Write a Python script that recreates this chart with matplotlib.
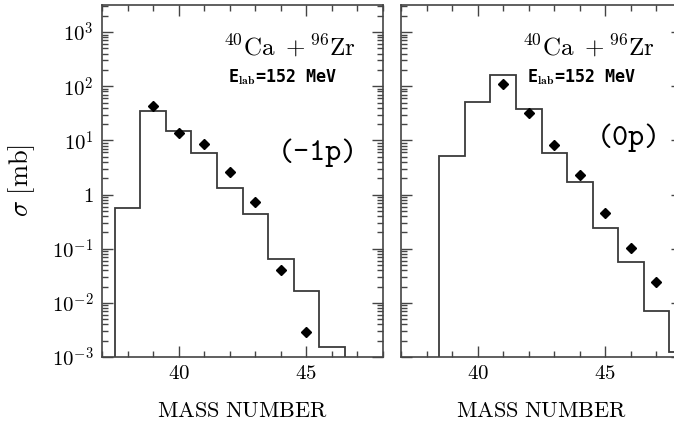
import os
import numpy as np
import matplotlib
matplotlib.use("Agg")
import matplotlib.pyplot as plt
from matplotlib.font_manager import FontProperties
from matplotlib.ticker import LogLocator, FixedLocator, MultipleLocator, NullFormatter

plt.rcParams['mathtext.fontset'] = 'cm'
plt.rcParams['font.family'] = ['DejaVu Serif']

# ---- data ----
# left panel (-1p)
calc_mass_m1 = [38, 39, 40, 41, 42, 43, 44, 45, 46]
calc_sigma_m1 = [0.56, 34.6, 15.2, 5.97, 1.32, 0.43, 0.0635, 0.0163, 0.00152]
exp_mass_m1 = [39, 40, 41, 42, 43, 44, 45]
exp_sigma_m1 = [42.9, 13.8, 8.75, 2.61, 0.72, 0.041, 0.0029]

# right panel (0p)
calc_mass_0 = [39, 40, 41, 42, 43, 44, 45, 46, 47, 48]
calc_sigma_0 = [5.16, 50.1, 158, 37.7, 5.97, 1.71, 0.245, 0.0575, 0.00693, 0.00126]
exp_mass_0 = [41, 42, 43, 44, 45, 46, 47]
exp_sigma_0 = [108, 31.4, 8.26, 2.34, 0.46, 0.101, 0.0242]

ytick_vals = [1e-3, 1e-2, 1e-1, 1, 10, 100, 1000]
ytick_labels = [r"$10^{-3}$", r"$10^{-2}$", r"$10^{-1}$", r"$1$", r"$10^{1}$", r"$10^{2}$", r"$10^{3}$"]
xtick_vals = [40, 45]
xtick_labels = [r"$40$", r"$45$"]

W, H = 674, 429
fig = plt.figure(figsize=(W / 100, H / 100), dpi=100)

tt_path = os.path.join(matplotlib.get_data_path(), "fonts", "ttf", "cmtt10.ttf")
if os.path.exists(tt_path):
    tt_font = FontProperties(fname=tt_path, size=22)
else:
    tt_font = FontProperties(family="Liberation Mono", size=20)

def px_axes(x0, y0, x1, y1):
    return fig.add_axes([x0 / W, 1 - y1 / H, (x1 - x0) / W, (y1 - y0) / H])

ax1 = px_axes(102, 5, 383, 357)
ax2 = px_axes(401, 5, 682, 357)

line_col = "#3a3a3a"
frame_col = "#444444"

def setup(ax, mass, sig, emass, esig, show_ylab):
    m = np.asarray(mass, dtype=float)
    edges = np.concatenate([m - 0.5, [m[-1] + 0.5]])
    ax.stairs(sig, edges, baseline=1e-3, fill=False, color=line_col, lw=1.3)
    ax.plot(emass, esig, ls="none", marker="D", ms=5.5, color="black", mec="black")
    ax.set_yscale("log")
    ax.set_xlim(37, 48)
    ax.set_ylim(1e-3, 10 ** 3.5)
    ax.xaxis.set_major_locator(FixedLocator(xtick_vals))
    ax.set_xticklabels(xtick_labels)
    ax.xaxis.set_minor_locator(MultipleLocator(1))
    ax.yaxis.set_major_locator(FixedLocator(ytick_vals))
    ax.yaxis.set_minor_locator(LogLocator(base=10, subs=np.arange(2, 10), numticks=20))
    ax.yaxis.set_minor_formatter(NullFormatter())
    if show_ylab:
        ax.set_yticklabels(ytick_labels)
    else:
        ax.set_yticklabels([])
    ax.tick_params(which="both", direction="in", top=True, right=True, colors=frame_col,
                   labelcolor="black", labelsize=15, width=1)
    ax.tick_params(which="major", length=8, pad=5)
    ax.tick_params(axis="y", which="major", pad=6)
    ax.tick_params(which="minor", length=4)
    for s in ax.spines.values():
        s.set_color(frame_col)
        s.set_linewidth(1.2)
    ax.set_xlabel(r"$\mathrm{MASS\ NUMBER}$", fontsize=16, labelpad=12)
    ax.text(0.905, 0.88, r"$^{40}\mathrm{Ca}\ +^{96}\mathrm{Zr}$", transform=ax.transAxes, ha="right",
            va="center", fontsize=18)
    ax.text(0.45, 0.795, r"E$_{\mathbf{lab}}$=152 MeV", transform=ax.transAxes,
            ha="left", va="center", fontsize=12, fontweight="bold", family="DejaVu Sans Mono")
    return ax

setup(ax1, calc_mass_m1, calc_sigma_m1, exp_mass_m1, exp_sigma_m1, True)
setup(ax2, calc_mass_0, calc_sigma_0, exp_mass_0, exp_sigma_0, False)

ax1.text(0.91, 0.58, "(-1p)", transform=ax1.transAxes, ha="right",
         va="center", fontproperties=tt_font)
ax2.text(0.925, 0.622, "(0p)", transform=ax2.transAxes, ha="right",
         va="center", fontproperties=tt_font)

fig.text(22 / W, 1 - 181 / H, r"$\sigma\ \mathrm{[mb]}$", rotation=90, ha="center", va="center", fontsize=19)

fig.savefig("out.png", dpi=100)
